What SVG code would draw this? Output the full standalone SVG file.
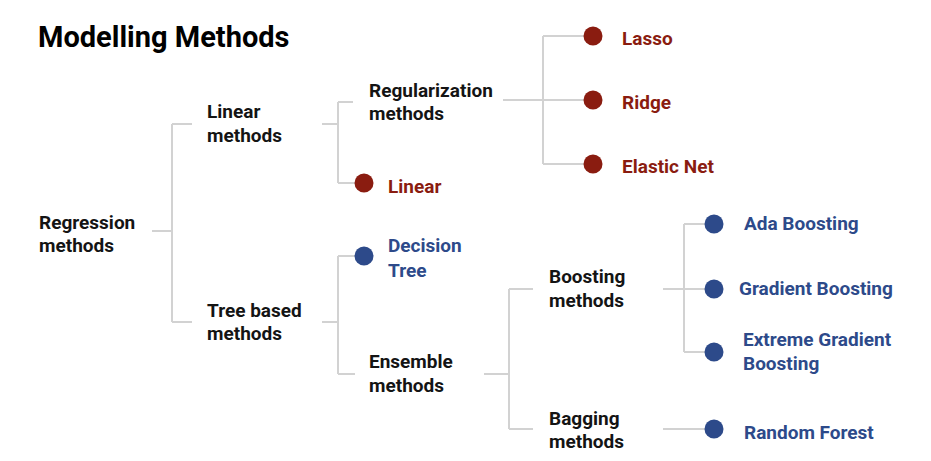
<svg xmlns="http://www.w3.org/2000/svg" width="931" height="461" viewBox="0 0 931 461">
<style>
text{font-family:Roboto,"Liberation Sans",sans-serif;font-weight:bold;font-size:19px}
.k{fill:#141414}
.r{fill:#8a1c10}
.b{fill:#2d4a8a}
.title{font-size:29px;fill:#000}
.dr{fill:#8a1c10}
.db{fill:#2d4a8a}
#connectors path{fill:none;stroke:#d2d2d2;stroke-width:2}
</style>
<rect width="931" height="461" fill="#fff"/>
<text class="title" x="38" y="47">Modelling Methods</text>
<g id="connectors">
<path d="M152 231H172M172 124V322M172 124H192M172 322H192"/>
<path d="M322 124H338M338 102V183M338 102H353M338 183H364"/>
<path d="M503 100H543M543 36V164M543 36H593M543 100H593M543 164H593"/>
<path d="M322 322H338M338 256V374M338 256H364M338 374H355"/>
<path d="M484 374H509M509 289V429M509 289H533M509 429H533"/>
<path d="M663 289H684M684 224V352M684 224H714M684 289H714M684 352H714"/>
<path d="M663 429H714"/>
</g>
<g id="regression"><text class="k" x="39" y="229">Regression</text><text class="k" x="39" y="252">methods</text></g>
<g id="linear-methods"><text class="k" x="207" y="118">Linear</text><text class="k" x="207" y="142">methods</text></g>
<g id="tree-based"><text class="k" x="207" y="317">Tree based</text><text class="k" x="207" y="340">methods</text></g>
<g id="regularization"><text class="k" x="369" y="97">Regularization</text><text class="k" x="369" y="120">methods</text></g>
<g id="linear"><circle class="dr" cx="364" cy="183" r="9.5"/><text class="r" x="388" y="193">Linear</text></g>
<g id="lasso"><circle class="dr" cx="593" cy="36" r="9.5"/><text class="r" x="622" y="45">Lasso</text></g>
<g id="ridge"><circle class="dr" cx="593" cy="100" r="9.5"/><text class="r" x="622" y="109">Ridge</text></g>
<g id="elastic-net"><circle class="dr" cx="593" cy="164" r="9.5"/><text class="r" x="622" y="173">Elastic Net</text></g>
<g id="decision-tree"><circle class="db" cx="364" cy="256" r="9.5"/><text class="b" x="388" y="252">Decision</text><text class="b" x="388" y="277">Tree</text></g>
<g id="ensemble"><text class="k" x="369" y="368">Ensemble</text><text class="k" x="369" y="392">methods</text></g>
<g id="boosting"><text class="k" x="549" y="283">Boosting</text><text class="k" x="549" y="307">methods</text></g>
<g id="bagging"><text class="k" x="549" y="425">Bagging</text><text class="k" x="549" y="448">methods</text></g>
<g id="ada"><circle class="db" cx="714" cy="224" r="9.5"/><text class="b" x="744" y="230">Ada Boosting</text></g>
<g id="gradient"><circle class="db" cx="714" cy="289" r="9.5"/><text class="b" x="739" y="295">Gradient Boosting</text></g>
<g id="xgb"><circle class="db" cx="714" cy="352" r="9.5"/><text class="b" x="743" y="346">Extreme Gradient</text><text class="b" x="743" y="370">Boosting</text></g>
<g id="rf"><circle class="db" cx="714" cy="429" r="9.5"/><text class="b" x="744" y="439">Random Forest</text></g>
</svg>
